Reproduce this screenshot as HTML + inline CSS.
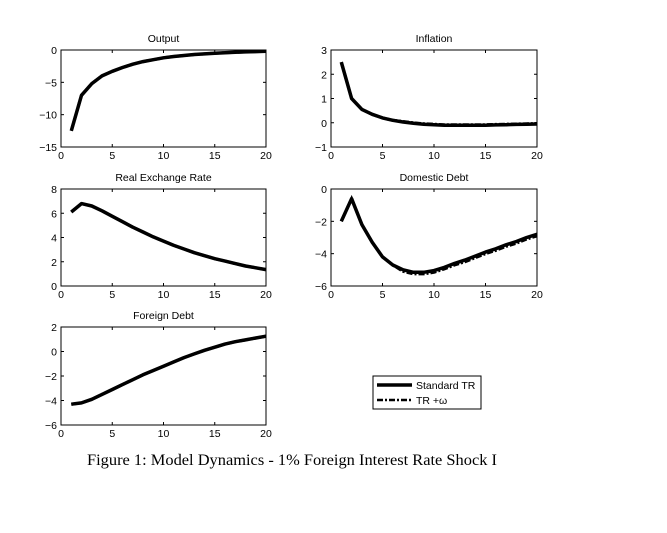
<!DOCTYPE html>
<html><head><meta charset="utf-8"><style>
body{margin:0;background:#fff;}
svg text{font-family:"Liberation Sans",sans-serif;font-size:10.5px;fill:#000;}
.cap{font-family:"Liberation Serif",serif;font-size:16px;}
</style></head><body>
<svg id="s" width="667" height="528" xmlns="http://www.w3.org/2000/svg"></svg>
<script>
const s=document.getElementById('s');let h='';
const P=[
{t:'Output',x0:61,x1:266,y0:50,y1:147,lo:-15,hi:0,yt:[0,-5,-10,-15],d:[-12.5,-7,-5.2,-4,-3.3,-2.7,-2.2,-1.8,-1.5,-1.2,-1.0,-0.85,-0.7,-0.6,-0.5,-0.42,-0.35,-0.3,-0.25,-0.2],d2:0},
{t:'Inflation',x0:331,x1:537,y0:50,y1:147,lo:-1,hi:3,yt:[3,2,1,0,-1],d:[2.5,1.0,0.55,0.35,0.2,0.1,0.03,-0.02,-0.06,-0.08,-0.1,-0.1,-0.1,-0.1,-0.1,-0.09,-0.08,-0.07,-0.06,-0.05],d2:0.02},
{t:'Real Exchange Rate',x0:61,x1:266,y0:189,y1:286,lo:0,hi:8,yt:[8,6,4,2,0],d:[6.1,6.8,6.6,6.2,5.75,5.3,4.85,4.45,4.05,3.7,3.35,3.05,2.75,2.5,2.25,2.05,1.85,1.65,1.5,1.35],d2:0},
{t:'Domestic Debt',x0:331,x1:537,y0:189,y1:286,lo:-6,hi:0,yt:[0,-2,-4,-6],d:[-2,-0.6,-2.2,-3.3,-4.2,-4.7,-5.0,-5.15,-5.15,-5.05,-4.85,-4.6,-4.4,-4.15,-3.9,-3.7,-3.45,-3.25,-3.0,-2.8],d2:-0.1},
{t:'Foreign Debt',x0:61,x1:266,y0:327,y1:425,lo:-6,hi:2,yt:[2,0,-2,-4,-6],d:[-4.3,-4.2,-3.9,-3.5,-3.1,-2.7,-2.3,-1.9,-1.55,-1.2,-0.85,-0.5,-0.2,0.1,0.35,0.6,0.8,0.95,1.1,1.25],d2:0}];
for(const p of P){
 const X=v=>p.x0+(p.x1-p.x0)*v/20, Y=v=>p.y1-(p.y1-p.y0)*(v-p.lo)/(p.hi-p.lo);
 h+=`<rect x="${p.x0}" y="${p.y0}" width="${p.x1-p.x0}" height="${p.y1-p.y0}" fill="none" stroke="#000" stroke-width="1"/>`;
 h+=`<text x="${(p.x0+p.x1)/2}" y="${p.y0-8}" text-anchor="middle">${p.t}</text>`;
 for(const v of [0,5,10,15,20]){const x=X(v);h+=`<line x1="${x}" y1="${p.y1}" x2="${x}" y2="${p.y1-3}" stroke="#000"/><line x1="${x}" y1="${p.y0}" x2="${x}" y2="${p.y0+3}" stroke="#000"/><text x="${x}" y="${p.y1+12}" text-anchor="middle">${v}</text>`;}
 for(const v of p.yt){const y=Y(v);h+=`<line x1="${p.x0}" y1="${y}" x2="${p.x0+3}" y2="${y}" stroke="#000"/><line x1="${p.x1}" y1="${y}" x2="${p.x1-3}" y2="${y}" stroke="#000"/><text x="${p.x0-4}" y="${y+4}" text-anchor="end">${String(v).replace('-','\u2212')}</text>`;}
 const pts=p.d.map((v,i)=>`${X(i+1).toFixed(1)},${Y(v).toFixed(1)}`).join(' ');
 const pts2=p.d.map((v,i)=>`${X(i+1).toFixed(1)},${Y(v+p.d2*(i>5?1:0)).toFixed(1)}`).join(' ');
 h+=`<polyline points="${pts2}" fill="none" stroke="#000" stroke-width="3" stroke-dasharray="6,2,2,2"/>`;
 h+=`<polyline points="${pts}" fill="none" stroke="#000" stroke-width="3.5" stroke-linejoin="round"/>`;
}
h+=`<rect x="373" y="376" width="108" height="33" fill="#fff" stroke="#000"/>`;
h+=`<line x1="377" y1="385" x2="412" y2="385" stroke="#000" stroke-width="3.5"/><text x="416" y="389">Standard TR</text>`;
h+=`<line x1="377" y1="400" x2="412" y2="400" stroke="#000" stroke-width="2.5" stroke-dasharray="6,2,2,2"/><text x="416" y="404">TR +ω</text>`;
h+=`<text class="cap" x="87" y="465" textLength="410" lengthAdjust="spacingAndGlyphs">Figure 1: Model Dynamics - 1% Foreign Interest Rate Shock I</text>`;
s.innerHTML=h;
</script>
</body></html>
